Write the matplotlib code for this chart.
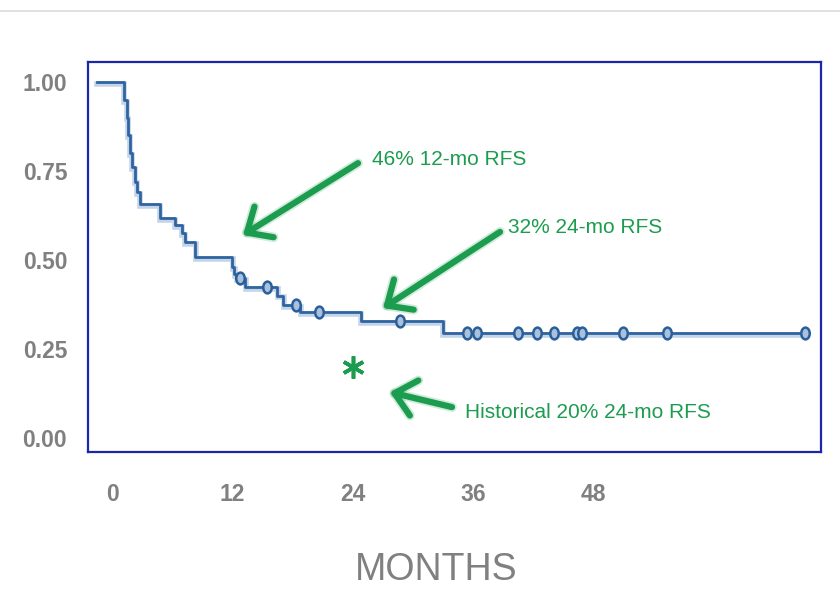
import numpy as np
import matplotlib
matplotlib.use("Agg")
import matplotlib.pyplot as plt
import matplotlib.patheffects as pe
from matplotlib.path import Path
from matplotlib.lines import Line2D

# Relapse-free survival curve (months, survival fraction), drawn as a step curve
times = [-1.5, 1.2, 1.5, 1.6, 1.8, 2.0, 2.3, 2.5, 2.8, 4.8, 6.3, 7.0, 7.3, 8.3,
         12.0, 12.2, 12.4, 13.3, 16.5, 17.1, 18.8, 24.8, 33.0, 69.2]
survival = [1.0, 0.95, 0.90, 0.85, 0.80, 0.76, 0.72, 0.69, 0.657, 0.618, 0.598,
            0.576, 0.551, 0.508, 0.48, 0.46, 0.45, 0.424, 0.40, 0.374, 0.354,
            0.329, 0.295, 0.295]

# Censored patients (months)
censor_times = [12.8, 15.5, 18.4, 20.7, 28.7, 35.4, 36.4, 40.5, 42.4, 44.1,
                46.4, 46.9, 51.0, 55.4, 69.2]

# Historical benchmark
hist_month = 24
hist_rfs = 0.20

x_ticks = [0, 12, 24, 36, 48]
y_ticks = [0.0, 0.25, 0.50, 0.75, 1.0]

green = "#1c9c4e"
gray = "#808080"
dark_blue = "#2f64a0"
light_blue = "#c3d4e8"


def surv_at(t):
    # value of the step curve at time t
    idx = np.searchsorted(times, t, side="right") - 1
    return survival[max(idx, 0)]


fig = plt.figure(figsize=(8.4, 6.06), dpi=100)
ax = fig.add_axes([88 / 840, (606 - 452) / 606, (821 - 88) / 840, (452 - 62) / 606])

# Light shadow under the curve, then the curve itself
shadow = ax.step(times, survival, where="post", color=light_blue, lw=4.0,
                 solid_joinstyle="miter", zorder=2)[0]
shadow.set_transform(ax.transData + matplotlib.transforms.ScaledTranslation(0.3 / 100, -1.8 / 100, fig.dpi_scale_trans))
ax.step(times, survival, where="post", color=dark_blue, lw=2.0, zorder=3)

# Censor marks drawn as small upright ovals
circ = Path.unit_circle()
oval = Path(circ.vertices * np.array([0.72, 1.0]), circ.codes)
censor_vals = [surv_at(t) for t in censor_times]
ax.plot(censor_times, censor_vals, ls="none", marker=oval, ms=8.5,
        mfc="#a9c1dc", mec="#2a5f9a", mew=1.8, zorder=4)

# Historical 20% benchmark
ax.plot(hist_month, hist_rfs, ls="none", marker=(6, 2, 0), ms=16, mew=2.6,
        color=green, zorder=4)

# Annotations
halo = [pe.Stroke(linewidth=7, foreground=green, alpha=0.2), pe.Normal()]


def green_arrow(tail, tip):
    a = ax.annotate("", xy=tip, xytext=tail,
                    arrowprops=dict(arrowstyle="->,head_length=1.45,head_width=1.3",
                                    color=green, lw=4.5, shrinkA=0, shrinkB=0,
                                    capstyle="round", joinstyle="round"))
    a.arrow_patch.set_path_effects(halo)


green_arrow((24.55, 0.772), (13.07, 0.570))
green_arrow((38.72, 0.579), (27.05, 0.365))
green_arrow((33.93, 0.087), (27.74, 0.129))

ax.text(25.95, 0.781, "46% 12-mo RFS", color=green, fontsize=15,
        family="Liberation Sans", va="center", ha="left")
ax.text(39.5, 0.590, "32% 24-mo RFS", color=green, fontsize=15,
        family="Liberation Sans", va="center", ha="left")
ax.text(35.2, 0.073, "Historical 20% 24-mo RFS", color=green, fontsize=15,
        family="Liberation Sans", va="center", ha="left")

# Axes styling
ax.set_xlim(-2.4, 70.76)
ax.set_ylim(-0.039, 1.056)
ax.set_xticks(x_ticks)
ax.set_xticklabels([str(t) for t in x_ticks])
ax.set_yticks(y_ticks)
ax.set_yticklabels([f"{v:.2f}" for v in y_ticks])
ax.tick_params(length=0, labelsize=16.5, labelcolor=gray)
ax.tick_params(axis="x", pad=22)
ax.tick_params(axis="y", pad=15)
for lbl in ax.get_xticklabels() + ax.get_yticklabels():
    lbl.set_fontweight("bold")
    lbl.set_family("Liberation Sans")
for sp in ax.spines.values():
    sp.set_color("#1a27a8")
    sp.set_linewidth(1.6)

fig.text(436 / 840, 1 - 570 / 606, "MONTHS", color=gray, fontsize=27,
         family="Liberation Sans", ha="center", va="center")

# Thin rule along the top of the page
fig.add_artist(Line2D([0, 1], [1 - 11 / 606, 1 - 11 / 606], color="#dcdcdc", lw=1.2))

fig.savefig("out.png", dpi=100)
